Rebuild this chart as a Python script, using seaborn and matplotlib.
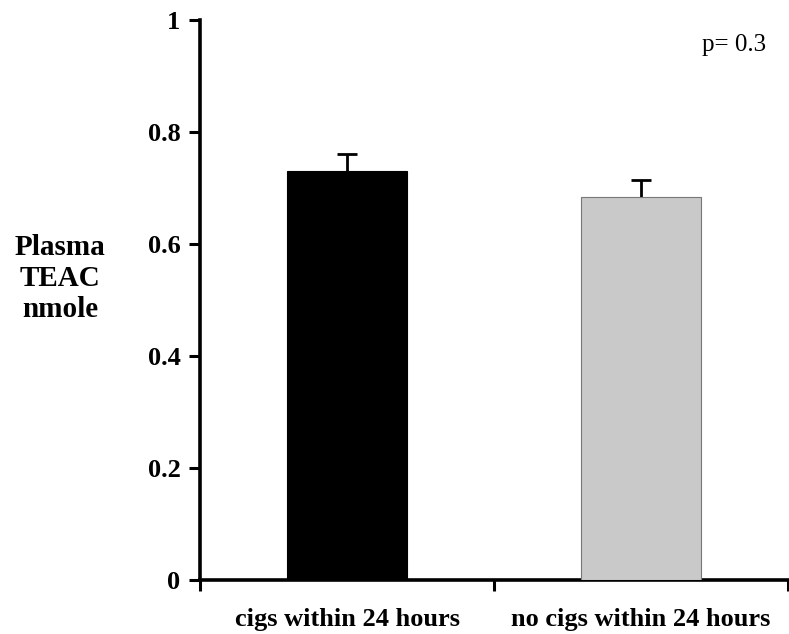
import matplotlib
matplotlib.use("Agg")
import matplotlib.pyplot as plt
import seaborn as sns
import pandas as pd
import numpy as np

# Group labels, mean plasma TEAC and standard error per group
groups = ["cigs within 24 hours", "no cigs within 24 hours"]
means = [0.731, 0.684]
errors = [0.030, 0.030]
bar_colors = ["#000000", "#c9c9c9"]
yticks = [0, 0.2, 0.4, 0.6, 0.8, 1]
ytick_labels = ["0", "0.2", "0.4", "0.6", "0.8", "1"]

sns.set_style("white")
plt.rcParams["font.family"] = ["Liberation Serif", "DejaVu Serif"]
for key in ["text.color", "axes.labelcolor", "xtick.color", "ytick.color"]:
    plt.rcParams[key] = "black"

df = pd.DataFrame({"group": groups, "value": means})

fig = plt.figure(figsize=(7.89, 6.34), dpi=100)
ax = fig.add_axes([0.2535, 0.0852, 0.7452, 0.8833])

sns.barplot(data=df, x="group", y="value", hue="group", palette=bar_colors,
            order=groups, hue_order=groups, legend=False, width=0.405,
            errorbar=None, ax=ax, edgecolor="#777777", linewidth=0.8)
# the dark bar keeps a black outline
ax.patches[0].set_edgecolor("#000000")
for p in ax.patches:
    p.set_zorder(3)

# symmetric error bars drawn behind the bars, so only the upper half shows
x = np.arange(len(groups))
ax.errorbar(x, means, yerr=errors, fmt="none", ecolor="black",
            elinewidth=2, capsize=7, capthick=2, zorder=2)

ax.set_xlim(-0.5, 1.5)
ax.set_ylim(0, 1)
ax.set_yticks(yticks)
ax.set_yticklabels(ytick_labels, fontsize=19, fontweight="bold")
ax.set_xticks(x)
ax.set_xticklabels(groups, fontsize=19, fontweight="bold")
ax.tick_params(axis="x", length=0, pad=20)
ax.tick_params(axis="y", direction="out", length=8, width=2.2, pad=6, left=True)

# category dividers on the x axis
ax.set_xticks([-0.5, 0.5, 1.5], minor=True)
ax.tick_params(axis="x", which="minor", direction="out", length=8, width=2.2, bottom=True)

for side in ["top", "right"]:
    ax.spines[side].set_visible(False)
for side in ["left", "bottom"]:
    ax.spines[side].set_linewidth(2.6)
    ax.spines[side].set_color("black")

ax.set_xlabel("")
ax.set_ylabel("Plasma\nTEAC\nnmole", rotation=0, fontsize=21, fontweight="bold",
              linespacing=1.2, va="center", ha="center")
ax.yaxis.set_label_coords(-0.238, 0.538)

ax.text(0.962, 0.955, "p= 0.3", transform=ax.transAxes, fontsize=18,
        ha="right", va="center")

fig.savefig("out.png", dpi=100)
